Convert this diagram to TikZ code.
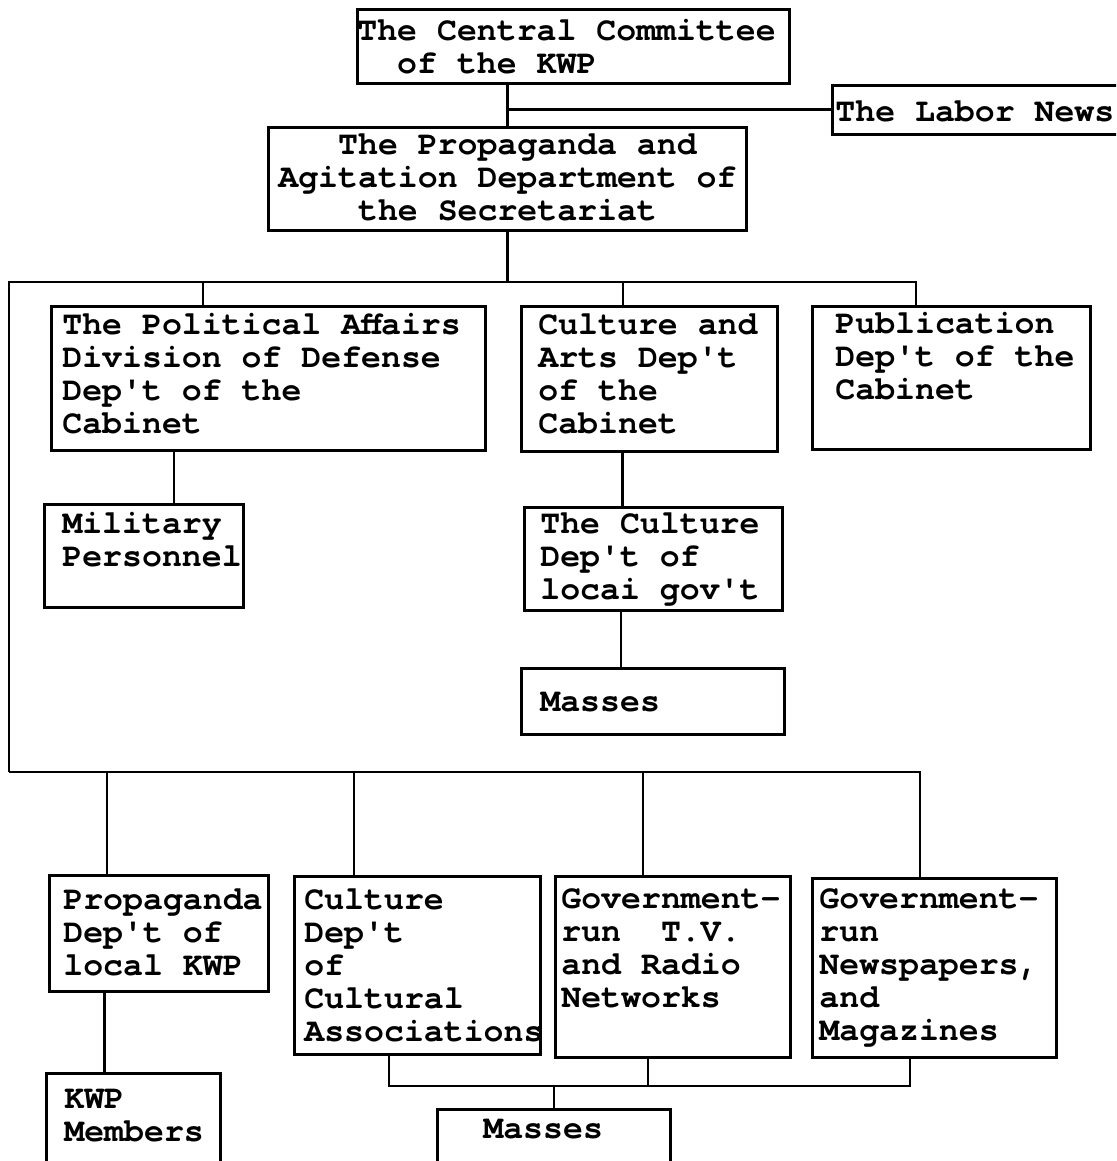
\documentclass[tikz,border=0pt]{standalone}
\usepackage{fontspec}
\usepackage{tikz}
\newfontfamily\typefont{TeX Gyre Cursor}
\newcommand\typesize{\fontsize{33.2}{33}\selectfont\spaceskip=19.92pt\relax\xspaceskip=19.92pt\relax\hyphenpenalty=10000\relax}

\begin{document}
\begin{tikzpicture}[
    x=1pt, y=-1pt,
    orgbox/.style={draw, line width=2.8pt, inner ysep=0pt, anchor=north west, align=flush left,
        font=\typefont\bfseries\typesize},
    wire/.style={line width=2.8pt}
]
\useasboundingbox (0,0) rectangle (1116,1161);
\clip (0,0) rectangle (1116,1161);

% top of the chart
\node[orgbox, minimum width=432, inner xsep=0, text width=432, text height=31, text depth=43] (cc) at (356,8) {The~Central~Committee\\\hphantom{00}of the KWP};
\node[orgbox, minimum width=309, inner xsep=3, text width=303, text height=36, text depth=13] (labor) at (831,84) {The Labor News};
\node[orgbox, minimum width=478, inner xsep=10, text width=458, text height=27, text depth=76] (prop) at (267,126) {\hphantom{000}The~Propaganda~and\\Agitation~Department~of\\\hphantom{0000}the~Secretariat};

% cabinet row
\node[orgbox, minimum width=434, inner xsep=11, text width=412, text height=28, text depth=116] (pol) at (50,305) {The~Political~Affairs\\Division of Defense\\Dep't of the\\Cabinet};
\node[orgbox, minimum width=256, inner xsep=17, text width=222, text height=28, text depth=117] (cult) at (520,305) {Culture~and\\Arts Dep't\\of the\\Cabinet};
\node[orgbox, minimum width=278, inner xsep=23, text width=232, text height=27, text depth=116] (pub) at (811,305) {Publication\\Dep't~of~the\\Cabinet};

\node[orgbox, minimum width=199, inner xsep=18, text width=163, text height=29, text depth=74] (mil) at (43,503) {Military\\Personnel};
\node[orgbox, minimum width=258, inner xsep=16, text width=226, text height=26, text depth=77] (cloc) at (523,506) {The~Culture\\Dep't of\\locai~gov't};
\node[orgbox, minimum width=263, inner xsep=19, text width=225, text height=43, text depth=23] (mass1) at (520,667) {Masses};

% lower row
\node[orgbox, minimum width=219, inner xsep=14, text width=191, text height=34, text depth=82] (propl) at (48,874) {Propaganda\\Dep't of\\local KWP};
\node[orgbox, minimum width=246, inner xsep=10, text width=226, text height=33, text depth=145] (cass) at (293,875) {Culture\\Dep't\\of\\Cultural\\Associations};
\node[orgbox, minimum width=235, inner xsep=6, text width=223, text height=32, text depth=149] (gtv) at (554,875) {Government-\\run~~T.V.\\and Radio\\Networks};
\node[orgbox, minimum width=244, inner xsep=7, text width=230, text height=30, text depth=149] (gnews) at (811,877) {Government-\\run\\Newspapers,\\and\\Magazines};

\node[orgbox, minimum width=174, inner xsep=18, text width=138, text height=35, text depth=73] (kwp) at (45,1072) {KWP\\Members};
\node[orgbox, minimum width=233, inner xsep=46, text width=141, text height=29, text depth=43] (mass2) at (436,1108) {Masses};

% bus points
\coordinate (lt) at (9,282);
\coordinate (rt) at (916,282);
\coordinate (tpol) at (203,282);
\coordinate (tcult) at (623,282);
\coordinate (lb) at (9,772);
\coordinate (rb) at (920,772);
\coordinate (d1) at (107,772);
\coordinate (d2) at (354,772);
\coordinate (d3) at (643,772);
\coordinate (bl) at (389,1086);
\coordinate (br) at (910,1086);

% connectors
\draw[wire] (prop.north) -- (prop.north |- cc.south);
\draw[wire] (prop.north |- labor.west) -- (labor.west);
\draw[wire] (prop.south) -- (prop.south |- lt);
\draw[wire] (lb) -- (lt) -- (rt) -- (rt |- pub.north);
\draw[wire] (tpol) -- (tpol |- pol.north);
\draw[wire] (tcult) -- (tcult |- cult.north);
\draw[wire] ([xshift=30]mil.north) -- ([xshift=30]mil.north |- pol.south);
\draw[wire] ([xshift=-31]cloc.north) -- ([xshift=-31]cloc.north |- cult.south);
\draw[wire] ([xshift=-32]mass1.north) -- ([xshift=-32]mass1.north |- cloc.south);

\draw[wire] (lb) -- (rb) -- (rb |- gnews.north);
\draw[wire] (d1) -- (d1 |- propl.north);
\draw[wire] (d2) -- (d2 |- cass.north);
\draw[wire] (d3) -- (d3 |- gtv.north);
\draw[wire] ([xshift=-29]kwp.north) -- ([xshift=-29]kwp.north |- propl.south);

\draw[wire] (bl |- cass.south) -- (bl) -- (br) -- (br |- gnews.south);
\draw[wire] ([xshift=-25]gtv.south) -- ([xshift=-25]gtv.south |- bl);
\draw[wire] (mass2.north) -- (mass2.north |- bl);

\end{tikzpicture}
\end{document}
